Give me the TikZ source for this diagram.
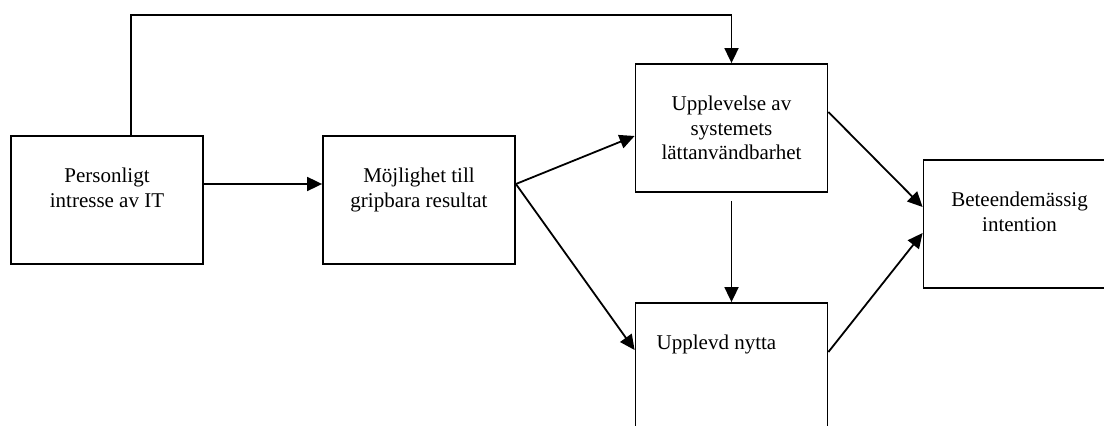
\documentclass[tikz,border=0pt]{standalone}
\usepackage{fontspec}
\setmainfont{Liberation Serif}
\usepackage{tikz}
\usetikzlibrary{arrows.meta,positioning}
\newcommand{\boxtxt}[1]{\parbox[c][128pt][t]{192pt}{\centering\rule{0pt}{47pt}#1}}

\begin{document}
\begin{tikzpicture} [
  x = 1pt, y = 1pt,
  box/.style = { draw, line width = 1.8pt, inner sep = 0, rectangle,
                 font = \fontsize{21}{24.5}\selectfont },
  arr/.style = { -{Triangle[length=15pt,width=14pt]}, line width = 1.8pt }
  ]
  \useasboundingbox (0,0) rectangle (1104,426);

  \node[box] (pers) at (107,226) {\boxtxt{Personligt\\ intresse av IT}};
  \node[box] (mojl) at (419,226) {\boxtxt{Möjlighet till\\ gripbara resultat}};
  \node[box] (lett) at (731.5,298) {\boxtxt{Upplevelse av\\ systemets\\ lättanvändbarhet}};
  \node[box] (nytta) at (731.5,59) {\boxtxt{Upplevd nytta\hspace*{30pt}}};
  \node[box] (beteende) at (1019.5,202) {\boxtxt{Beteendemässig\\ intention}};

  \coordinate (split) at ([yshift=16pt]mojl.east);

  \draw[arr] ([xshift=24pt]pers.north) -- ++(0,120) -| (lett.north);
  \draw[arr] ([yshift=16pt]pers.east) -- ([yshift=16pt]mojl.west);
  \draw[arr] (split) -- ([yshift=-8pt]lett.west);
  \draw[arr] (split) -- ([yshift=17pt]nytta.west);
  \draw[arr] ([yshift=-8pt]lett.south) -- (nytta.north);
  \draw[arr] ([yshift=16pt]lett.east) -- ([yshift=17pt]beteende.west);
  \draw[arr] ([yshift=15pt]nytta.east) -- ([yshift=-9pt]beteende.west);
\end{tikzpicture}
\end{document}
